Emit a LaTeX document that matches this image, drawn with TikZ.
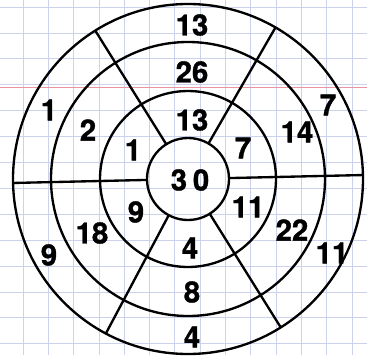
\documentclass[tikz,border=0pt]{standalone}
\usepackage{fontspec}
\setmainfont{TeX Gyre Heros}
\newfontfamily\numfont{TeX Gyre Heros}[BoldFeatures={FakeBold=1.2}]
\definecolor{gridblue}{RGB}{205,210,236}
\definecolor{marginred}{RGB}{232,150,165}
\begin{document}
\begin{tikzpicture}[x=0.03cm,y=0.03cm,
		ring/.style={line width=2pt},
		spoke/.style={line width=2pt},
		gridline/.style={gridblue,line width=0.6pt},
		num/.style={font=\numfont\fontsize{25}{25}\selectfont\bfseries,inner sep=0pt}]
			\useasboundingbox (-188,-176) rectangle (179,179);
			%\clip(-188,-176) rectangle (179,179);
			\foreach \i in {0,...,13} \draw[gridline] ({-165+25.3*\i},-176) -- ++(0,355);
			\foreach \i in {0,...,13} \draw[gridline] (-188,{172-25.9*\i}) -- ++(367,0);
			\draw[marginred,line width=0.7pt] (-188,92) -- (179,92);
			\coordinate (C) at (0,0);
			\draw[ring] (C) circle (41);
			\draw[ring] (C) circle (88);
			\draw[ring] (C) circle (137);
			\draw[ring] (C) circle (175);
			\draw[spoke] (122:41) -- (122:175);
			\draw[spoke] (-58:41) -- (-58:175);
			\draw[spoke] (60:41) -- (60:175);
			\draw[spoke] (242:41) -- (242:175);
			\draw[spoke] (181.3:41) -- (181.3:175);
			\draw[spoke] (1.3:41) -- (1.3:175);
			\node[num] (mid) at (2,-1) {3\kern5pt0};
			\node[num] (topA) at (4,59) {13};
			\node[num] (topB) at (4,107) {26};
			\node[num] (topC) at (4,154) {13};
			\node[num] (ulA) at (-55,29) {1};
			\node[num] (ulB) at (-100,49) {2};
			\node[num] (ulC) at (-139,69) {1};
			\node[num] (urA) at (55,31) {7};
			\node[num] (urB) at (109,47) {14};
			\node[num] (urC) at (140,74) {7};
			\node[num] (llA) at (-52,-33) {9};
			\node[num] (llB) at (-96,-54) {18};
			\node[num] (llC) at (-139,-76) {9};
			\node[num] (lrA) at (60,-28) {11};
			\node[num] (lrB) at (104,-51) {22};
			\node[num] (lrC) at (144,-74) {11};
			\node[num] (botA) at (2,-69) {4};
			\node[num] (botB) at (4,-113) {8};
			\node[num] (botC) at (4,-158) {4};
		\end{tikzpicture}
\end{document}
